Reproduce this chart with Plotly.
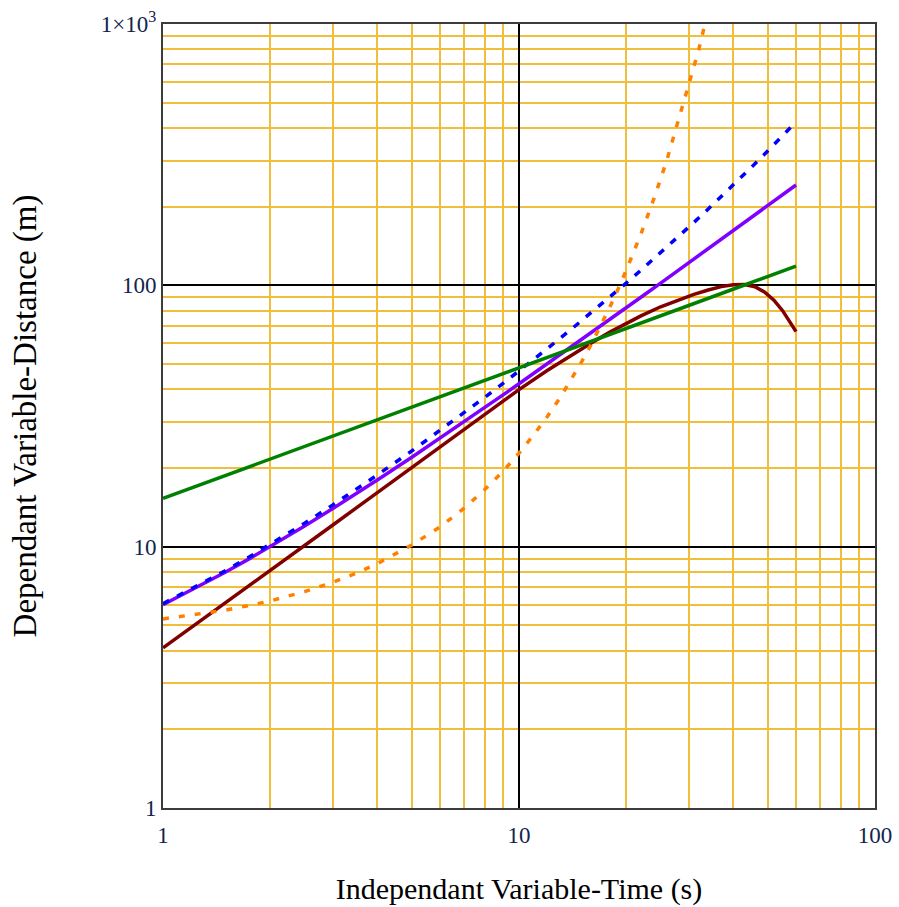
import plotly.graph_objects as go

# ---- data ----
time_s = [1, 1.25, 1.5, 1.75, 2, 2.5, 3, 3.5, 4, 5, 6, 7, 8, 9, 10, 12, 14, 16, 18, 20,
          22, 25, 28, 31, 34, 37, 40, 43, 46, 49, 52, 55, 58, 60]

dist_purple = [6.0, 7.0, 8.0, 9.0, 10.0, 12.0, 14.0, 16.0, 18.0, 22.0, 26.0, 30.0, 34.0, 38.0,
               42.0, 50.0, 58.0, 66.0, 74.0, 82.0, 90.0, 102.0, 114.0, 126.0, 138.0, 150.0,
               162.0, 174.0, 186.0, 198.0, 210.0, 222.0, 234.0, 242.0]

dist_blue = [6.05, 7.08, 8.11, 9.15, 10.2, 12.3, 14.45, 16.6, 18.8, 23.25, 27.8, 32.45, 37.2,
             42.05, 47.0, 57.2, 67.8, 78.8, 90.2, 102.0, 114.2, 133.25, 153.2, 174.05, 195.8,
             218.45, 242.0, 266.45, 291.8, 318.05, 345.2, 373.25, 402.2, 422.0]

dist_green = [15.3, 17.1, 18.7, 20.2, 21.6, 24.2, 26.5, 28.6, 30.6, 34.2, 37.5, 40.5, 43.3,
              45.9, 48.4, 53.0, 57.2, 61.2, 64.9, 68.4, 71.8, 76.5, 81.0, 85.2, 89.2, 93.1,
              96.8, 100.3, 103.8, 107.1, 110.3, 113.5, 116.5, 118.5]

dist_maroon = [4.1, 5.1, 6.1, 7.1, 8.1, 10.1, 12.1, 14.1, 16.1, 20.1, 24.1, 28.1, 32.1, 36.0,
               39.9, 47.2, 54.0, 60.3, 66.2, 71.6, 76.4, 82.8, 88.0, 92.4, 96.0, 98.9, 100.6,
               100.8, 98.8, 94.2, 87.8, 80.0, 71.5, 66.5]

time_orange = [1, 1.25, 1.5, 1.75, 2, 2.5, 3, 3.5, 4, 5, 6, 7, 8, 9, 10, 11, 12, 13, 14, 15,
               16, 17, 18, 19, 20, 22, 24, 26, 28, 30, 32, 34, 36]
dist_orange = [5.29, 5.50, 5.72, 5.96, 6.2, 6.73, 7.31, 7.93, 8.61, 10.15, 11.9, 14.0, 16.5,
               19.35, 22.8, 26.8, 31.4, 36.9, 43.4, 51.0, 59.9, 70.4, 82.6, 97.1, 114.0, 157.0,
               217.0, 300.0, 424.0, 580.0, 800.0, 1127.0, 1560.0]

# ---- axis ticks ----
x_major = [1, 10, 100]
x_major_text = ["1", "10", "100"]
x_minor = [2, 3, 4, 5, 6, 7, 8, 9, 20, 30, 40, 50, 60, 70, 80, 90]
y_major = [1, 10, 100, 1000]
y_major_text = ["1", "10", "100", "1×10<sup>3</sup>"]
y_minor = [2, 3, 4, 5, 6, 7, 8, 9, 20, 30, 40, 50, 60, 70, 80, 90, 200, 300, 400, 500, 600,
           700, 800, 900]

GRID = "#F0BE3A"
TICKC = "#14244C"
FONT = "Liberation Serif"

fig = go.Figure()
fig.add_trace(go.Scatter(x=time_s, y=dist_maroon, mode="lines",
                         line=dict(color="#800000", width=3.5)))
fig.add_trace(go.Scatter(x=time_s, y=dist_purple, mode="lines",
                         line=dict(color="#8000FF", width=3.5)))
fig.add_trace(go.Scatter(x=time_s, y=dist_blue, mode="lines",
                         line=dict(color="#0000FF", width=3.5, dash="7px,9px")))
fig.add_trace(go.Scatter(x=time_s, y=dist_green, mode="lines",
                         line=dict(color="#008000", width=3.5)))
fig.add_trace(go.Scatter(x=time_orange, y=dist_orange, mode="lines",
                         line=dict(color="#FF8000", width=3.5, dash="6px,10px")))

axis_common = dict(
    type="log", automargin=False,
    showgrid=True, gridcolor="black", gridwidth=1.5,
    showline=True, mirror=True, linecolor="#3C3C3C", linewidth=2,
    ticks="", zeroline=False,
    tickfont=dict(family=FONT, size=23, color=TICKC),
)

fig.update_layout(
    width=899, height=907,
    margin=dict(l=163, r=24, t=24, b=99, pad=0, autoexpand=False),
    paper_bgcolor="white", plot_bgcolor="white",
    showlegend=False,
    xaxis=dict(**axis_common, range=[0, 2], tickmode="array", tickvals=x_major,
               ticktext=x_major_text, ticklabelstandoff=5,
               minor=dict(tickmode="array", tickvals=x_minor, showgrid=True,
                          gridcolor=GRID, gridwidth=2, ticks=""),
               title=dict(text="Independant Variable-Time (s)",
                          font=dict(family=FONT, size=30, color="black"), standoff=31)),
    yaxis=dict(**axis_common, range=[0, 3], tickmode="array", tickvals=y_major,
               ticktext=y_major_text,
               minor=dict(tickmode="array", tickvals=y_minor, showgrid=True,
                          gridcolor=GRID, gridwidth=2, ticks=""),
               title=dict(text="Dependant Variable-Distance (m)",
                          font=dict(family=FONT, size=33, color="black"), standoff=54)),
)

fig.write_html("out.html")
